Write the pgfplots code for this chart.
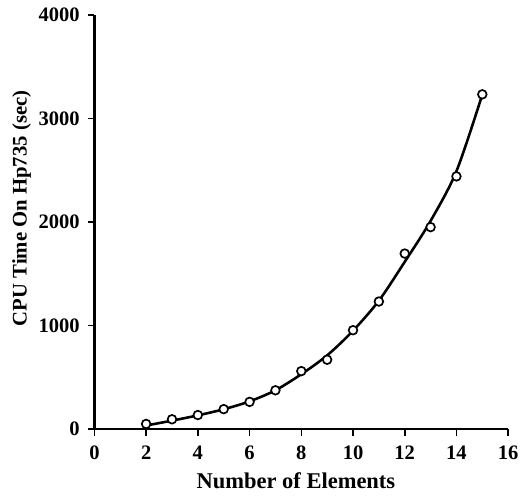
\documentclass[border=0pt]{standalone}
\usepackage{pgfplots}
\pgfplotsset{compat=1.18}
\usepackage{fontspec}
\setmainfont{Liberation Serif}
\begin{document}
\begin{tikzpicture}
\begin{axis}[
  scale only axis=true,
  width=209.7pt, height=210pt,
  xmin=0, xmax=16, ymin=0, ymax=4000,
  axis lines=left,
  axis line style={-, line width=1.3pt},
  xtick={0,2,...,16}, ytick={0,1000,...,4000},
  tick align=outside,
  major tick length=3.5pt,
  tick style={line width=0.8pt, black},
  /pgf/number format/assume math mode=true,
  /pgf/number format/1000 sep={},
  tick label style={font=\bfseries\fontsize{10.4}{12}\selectfont},
  xticklabel style={yshift=-1.5pt},
  yticklabel style={xshift=-0.5pt},
  xlabel={Number of Elements},
  ylabel={CPU Time On Hp735 (sec)},
  xlabel style={font=\bfseries\fontsize{11.4}{13}\selectfont, at={(axis description cs:0.487,-0.124)}, anchor=center},
  ylabel style={font=\bfseries\fontsize{10.5}{12}\selectfont, at={(axis description cs:-0.176,0.533)}, anchor=center, rotate=0},
  clip=false,
]
\addplot[black, line width=1.3pt, smooth, tension=0.5] coordinates {
  (2,35) (3,82) (4,133) (5,192) (6,268) (7,375) (8,530) (9,712) (10,950)
  (11,1240) (12,1615) (13,2010) (14,2490) (15,3230)
};
\addplot[only marks, mark=*, mark size=2.2pt, mark options={draw=black, fill=white, line width=0.85pt}] coordinates {
  (2,50) (3,95) (4,136) (5,193) (6,263) (7,375) (8,560) (9,670) (10,955)
  (11,1232) (12,1695) (13,1950) (14,2440) (15,3232)
};
\draw[draw=none] (axis description cs:-0.2282,-0.1476) rectangle (axis description cs:1.0238,1.0357);
\end{axis}
\end{tikzpicture}
\end{document}
